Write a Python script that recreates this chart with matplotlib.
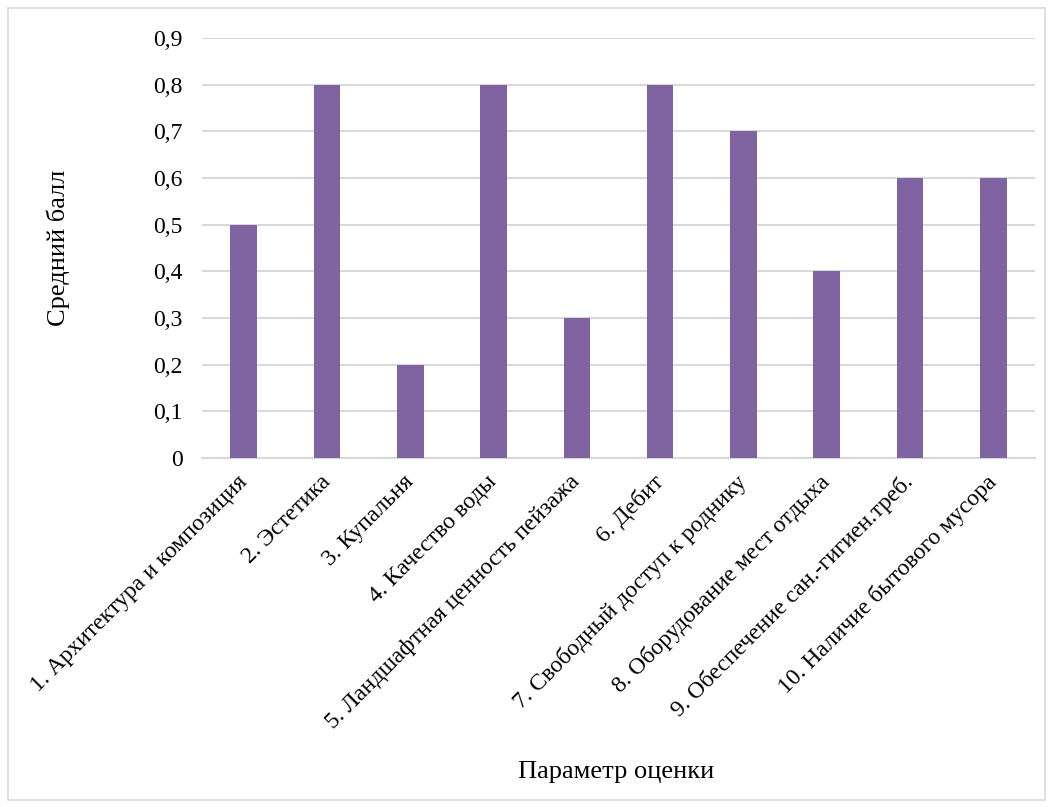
import matplotlib
matplotlib.use("Agg")
import matplotlib.pyplot as plt
from matplotlib.patches import Rectangle
from matplotlib.ticker import FuncFormatter

categories = [
    "1. Архитектура и композиция",
    "2. Эстетика",
    "3. Купальня",
    "4. Качество воды",
    "5. Ландшафтная ценность пейзажа",
    "6. Дебит",
    "7. Свободный доступ к роднику",
    "8. Оборудование мест отдыха",
    "9. Обеспечение сан.-гигиен.треб.",
    "10. Наличие бытового мусора",
]
values = [0.5, 0.8, 0.2, 0.8, 0.3, 0.8, 0.7, 0.4, 0.6, 0.6]
yticks = [0, 0.1, 0.2, 0.3, 0.4, 0.5, 0.6, 0.7, 0.8, 0.9]

plt.rcParams['font.family'] = ['Liberation Serif', 'DejaVu Serif']

fig = plt.figure(figsize=(10.53, 8.07), dpi=100)
ax = fig.add_axes([202/1053, 1 - 458/807, (1035-202)/1053, (458-38)/807])

x = list(range(len(categories)))
ax.bar(x, values, width=0.32, color="#8064A2", zorder=3)

ax.set_xlim(-0.5, len(categories) - 0.5)
ax.set_ylim(0, 0.9)
ax.set_yticks(yticks)
ax.yaxis.set_major_formatter(FuncFormatter(lambda v, p: "0" if v == 0 else f"{v:.1f}".replace(".", ",")))
ax.grid(axis="y", color="#D9D9D9", linewidth=1.5, zorder=0)
ax.set_axisbelow(True)
for s in ["top", "right", "left"]:
    ax.spines[s].set_visible(False)
ax.spines["bottom"].set_color("#D9D9D9")
ax.spines["bottom"].set_linewidth(1.5)
ax.tick_params(axis="both", length=0, labelsize=17, colors="black")
ax.tick_params(axis="y", pad=14)

ax.set_xticks(x)
ax.set_xticklabels(categories, rotation=45, ha="right", va="center", rotation_mode="anchor")
ax.tick_params(axis="x", pad=15)

fig.text(58/1053, 1 - 248/807, "Средний балл", fontsize=19, rotation=90, ha="center", va="center")
fig.text(616/1053, 1 - 772/807, "Параметр оценки", fontsize=19, ha="center", va="center")

fig.patches.append(Rectangle((8/1053, 1 - 800/807), (1045-8)/1053, (800-8)/807,
                             transform=fig.transFigure, fill=False,
                             edgecolor="#D9D9D9", linewidth=1.2))

fig.savefig("out.png", dpi=100, facecolor="white")
